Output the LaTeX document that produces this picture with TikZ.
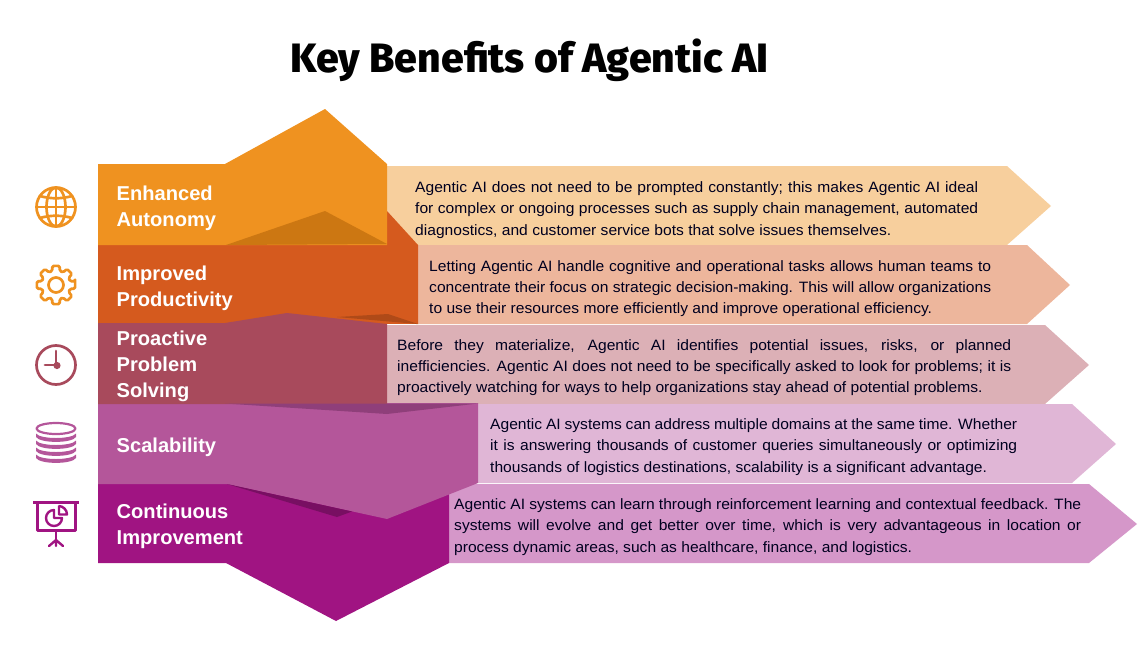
\documentclass[tikz,border=0pt]{standalone}
\usepackage{fontspec}
\setmainfont{Liberation Sans}
\newfontfamily\bodyfont[FakeStretch=1.04]{Liberation Sans}
\newfontfamily\titlefont[BoldFont={Fira Sans ExtraBold}]{Fira Sans}
\definecolor{cOrange}{HTML}{EF9220}
\definecolor{cOrangeD}{HTML}{CC7712}
\definecolor{cRust}{HTML}{D55A1E}
\definecolor{cRustD}{HTML}{AF4A18}
\definecolor{cPlum}{HTML}{A84A5C}
\definecolor{cPlumD}{HTML}{8F3F7A}
\definecolor{cOrchid}{HTML}{B4569A}
\definecolor{cMag}{HTML}{A01482}
\definecolor{cMagD}{HTML}{780F62}
\definecolor{lOrange}{HTML}{F7CF9D}
\definecolor{lRust}{HTML}{EDB69C}
\definecolor{lPlum}{HTML}{DCB0B6}
\definecolor{lOrchid}{HTML}{E0B6D6}
\definecolor{lMag}{HTML}{D597C9}
\newcommand\jline[1]{\hbox to \hsize{#1}}
\newcommand\fline[1]{\hbox{#1}}
\tikzset{
  x=1pt,y=-1pt,
  bandlabel/.style={anchor=west,inner sep=0pt,align=left,text=white,
    font=\fontsize{20.1}{26}\selectfont\bfseries},
  bodytext/.style={anchor=base west,inner sep=0pt,text=black!88!blue,
    font=\bodyfont\fontsize{15}{21.4}\selectfont},
  icon/.style={line width=2.7pt,line cap=round,line join=round},
}
\begin{document}
\begin{tikzpicture}
\useasboundingbox (0,0) rectangle (1148,648);
% pale arrows
\fill[lOrange] (387,166)--(1007,166)--(1051,206)--(1007,245)--(387,245)--cycle;
\fill[lRust] (418,245)--(1027,245)--(1070,285)--(1027,324)--(418,324)--cycle;
\fill[lPlum] (387,325)--(1045,325)--(1089,365)--(1045,404)--(387,404)--cycle;
\fill[lOrchid] (478,404)--(1072,404)--(1116,444)--(1072,483)--(478,483)--cycle;
\fill[lMag] (449,484)--(1089,484)--(1137,524)--(1089,563)--(449,563)--cycle;
% bands
\fill[cRust] (98,245)--(387,245)--(387,211)--(418,245)--(418,324)--(98,323)--cycle;
\fill[cRustD] (337,317)--(388,314)--(418,324)--cycle;
\fill[cOrange] (98,164)--(225,164)--(325,109)--(387,164)--(387,245)--(98,245)--cycle;
\fill[cOrangeD] (226,245)--(325,211)--(387,244)--cycle;
\fill[cMag] (98,484)--(449,484)--(449,563)--(336,621)--(226,563)--(98,563)--cycle;
\fill[cOrchid] (98,403)--(478,403)--(478,483)--(387,519)--(227,484)--(98,484)--cycle;
\fill[cMagD] (227,484)--(337,517)--(352,511.5)--cycle;
\fill[cPlum] (98,323)--(225,323)--(287,313)--(387,324)--(387,404)--(98,404)--cycle;
\fill[cPlumD] (225,403.5)--(387,414)--(478,403.5)--cycle;
% title
\node[anchor=base,inner sep=0pt,font=\titlefont\fontsize{41}{44}\selectfont\bfseries] (title) at (529.5,72.5) {Key Benefits of Agentic AI};
% labels
\node[bandlabel] (l1) at (116.5,208) {Enhanced\\Autonomy};
\node[bandlabel] (l2) at (116.5,288) {Improved\\Productivity};
\node[bandlabel] (l3) at (116.5,366) {Proactive\\Problem\\Solving};
\node[bandlabel] (l4) at (116.5,447) {Scalability};
\node[bandlabel] (l5) at (116.5,526) {Continuous\\Improvement};
% body text
\node[bodytext] (t1) at (415,192.5) {\parbox[t]{563pt}{%
\jline{Agentic AI does not need to be prompted constantly; this makes Agentic AI ideal}
\jline{for complex or ongoing processes such as supply chain management, automated}
\fline{diagnostics, and customer service bots that solve issues themselves.}}};
\node[bodytext] (t2) at (429,271) {\parbox[t]{562pt}{%
\jline{Letting Agentic AI handle cognitive and operational tasks allows human teams to}
\jline{concentrate their focus on strategic decision-making. This will allow organizations}
\fline{to use their resources more efficiently and improve operational efficiency.}}};
\node[bodytext] (t3) at (397,350) {\parbox[t]{614pt}{%
\jline{Before they materialize, Agentic AI identifies potential issues, risks, or planned}
\jline{inefficiencies. Agentic AI does not need to be specifically asked to look for problems; it is}
\fline{proactively watching for ways to help organizations stay ahead of potential problems.}}};
\node[bodytext] (t4) at (490,429.5) {\parbox[t]{527pt}{%
\jline{Agentic AI systems can address multiple domains at the same time. Whether}
\jline{it is answering thousands of customer queries simultaneously or optimizing}
\fline{thousands of logistics destinations, scalability is a significant advantage.}}};
\node[bodytext] (t5) at (454,509.5) {\parbox[t]{627pt}{%
\jline{Agentic AI systems can learn through reinforcement learning and contextual feedback. The}
\jline{systems will evolve and get better over time, which is very advantageous in location or}
\fline{process dynamic areas, such as healthcare, finance, and logistics.}}};
% globe icon
\begin{scope}[icon]
\draw[cOrange] (56,207) circle (19.5);
\draw[cOrange] (56,207) ellipse (9.5 and 19.5);
\draw[cOrange] (56,187.5)--(56,226.5) (36.5,207)--(75.5,207);
\draw[cOrange] (40,196) .. controls (50,199) and (62,199) .. (72,196);
\draw[cOrange] (40,218) .. controls (50,215) and (62,215) .. (72,218);
\end{scope}
% gear icon
\begin{scope}[icon,shift={(56,285)}]
\draw[cOrange] (0,0) circle (7.5);
\draw[cOrange,rounded corners=1.5pt] (-11:19.5)
  \foreach \a in {0,45,...,315}{
    -- (\a+11:19.5) -- (\a+15:14.5) -- (\a+30:14.5) -- (\a+34:19.5)
  } -- cycle;
\end{scope}
% clock icon
\begin{scope}[icon]
\draw[cPlum] (56,365) circle (19.5);
\draw[cPlum] (56,365)--(56,351) (56,365)--(45,365);
\fill[cPlum] (57,365.5) circle (3.6);
\end{scope}
% stack icon
\begin{scope}[icon]
\draw[cOrchid,line width=2.2pt] (56,428.5) ellipse (19.5 and 5.5);
\foreach \yy in {437,444,451,458}{
  \fill[cOrchid] (36,\yy-3.5) .. controls (40,\yy+2.5) and (72,\yy+2.5) .. (76,\yy-3.5)
    -- (76,\yy) .. controls (72,\yy+6.5) and (40,\yy+6.5) .. (36,\yy) -- cycle;
}
\end{scope}
% presentation icon
\begin{scope}[icon,line width=2.4pt,line cap=butt]
\draw[cMag] (33,502.5)--(79,502.5);
\draw[cMag] (37.5,502.5)--(37.5,530.5)--(75.5,530.5)--(75.5,502.5);
\draw[cMag] (56,530.5)--(56,540);
\draw[cMag,line cap=round] (49,546)--(56,540)--(63,546) (56,540)--(56,546);
\draw[cMag] (54,510) arc[start angle=-90,end angle=-360,radius=8] -- (54,518) -- cycle;
\draw[cMag] (59,505.5) -- (59,514.5) -- (67,514.5) arc[start angle=0,end angle=-90,radius=8.5];
\end{scope}
\end{tikzpicture}
\end{document}
